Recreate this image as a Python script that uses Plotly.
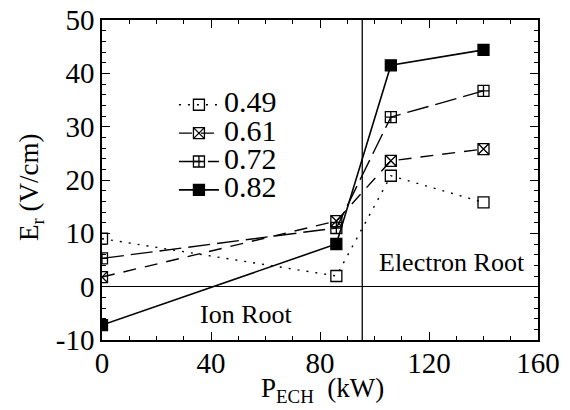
import plotly.graph_objects as go

# ---- data ----
p_ech = [0, 86, 106, 140]                 # kW
er_049 = [9.0, 2.0, 20.8, 15.8]
er_061 = [1.8, 12.3, 23.6, 25.8]
er_072 = [5.3, 11.0, 31.8, 36.7]
er_082 = [-7.2, 8.0, 41.5, 44.4]
series_names = ["0.49", "0.61", "0.72", "0.82"]
transition_power = 95.5                   # boundary between roots (kW)
x_ticks = [0, 40, 80, 120, 160]
y_ticks = [-10, 0, 10, 20, 30, 40, 50]
y_tick_text = ["-10", "0", "10", "20", "30", "40", "50"]

FONT = "Liberation Serif, Times New Roman, serif"

styles = [
    dict(dash="2px,7px", symbol="square-open", width=1.4),
    dict(dash="13px,9px", symbol="square-x-open", width=1.4),
    dict(dash="22px,7px", symbol="square-cross-open", width=1.4),
    dict(dash="solid", symbol="square", width=1.6),
]
series = [er_049, er_061, er_072, er_082]

fig = go.Figure()
for name, ys, st in zip(series_names, series, styles):
    fig.add_trace(go.Scatter(
        x=p_ech, y=ys, name=f'<span style="font-size:30px">{name}</span>',
        mode="lines+markers",
        line=dict(color="black", width=st["width"], dash=st["dash"]),
        marker=dict(symbol=st["symbol"], size=11, color="black",
                    line=dict(color="black", width=1.3)),
    ))

fig.add_shape(type="line", xref="x", yref="paper",
              x0=transition_power, x1=transition_power, y0=0, y1=1,
              line=dict(color="black", width=1.3))

fig.add_annotation(x=53, y=-5.3, text="Ion Root", showarrow=False,
                   font=dict(family=FONT, size=26, color="black"))
fig.add_annotation(x=128.5, y=4.6, text="Electron Root", showarrow=False,
                   font=dict(family=FONT, size=26, color="black"))

# axis titles
fig.add_annotation(xref="paper", yref="paper", x=0.5046, y=0, yshift=-50,
                   xanchor="center", yanchor="middle",
                   text="P<sub>ECH</sub>  (kW)", showarrow=False,
                   font=dict(family=FONT, size=27, color="black"))
fig.add_annotation(xref="paper", yref="paper", x=0, xshift=-71, y=0.478,
                   xanchor="center", yanchor="middle",
                   text="E<sub>r</sub> (V/cm)", showarrow=False, textangle=-90,
                   font=dict(family=FONT, size=27, color="black"))

axis_common = dict(
    showline=True, linecolor="black", linewidth=1.5, mirror="allticks",
    ticks="inside", ticklen=8, tickwidth=1.3, tickcolor="black",
    showgrid=False, zeroline=False, automargin=False,
    ticklabeloverflow="allow",
    tickfont=dict(family=FONT, size=29, color="black"),
)

fig.update_xaxes(
    range=[0, 160], tickvals=x_ticks, ticklabelstandoff=-4, **axis_common,
    minor=dict(dtick=10, ticks="inside", ticklen=4, tickcolor="black", tickwidth=1.2),
)
fig.update_yaxes(
    range=[-10, 50], tickvals=y_ticks, ticktext=y_tick_text, **axis_common,
    minor=dict(dtick=2, ticks="inside", ticklen=4, tickcolor="black", tickwidth=1.2),
)
fig.update_yaxes(zeroline=True, zerolinecolor="black", zerolinewidth=1.3)

# the page body adds an 8px offset, so the figure is 8px smaller than the window
fig.update_layout(
    width=562, height=402,
    margin=dict(l=94, r=32, t=12, b=70),
    paper_bgcolor="white", plot_bgcolor="white",
    showlegend=True,
    legend=dict(x=0.165, y=0.795, xanchor="left", yanchor="top",
                bgcolor="rgba(0,0,0,0)", borderwidth=0,
                font=dict(family=FONT, size=19.5, color="black"),
                tracegroupgap=0, itemwidth=40),
)

fig.write_html("out.html")
